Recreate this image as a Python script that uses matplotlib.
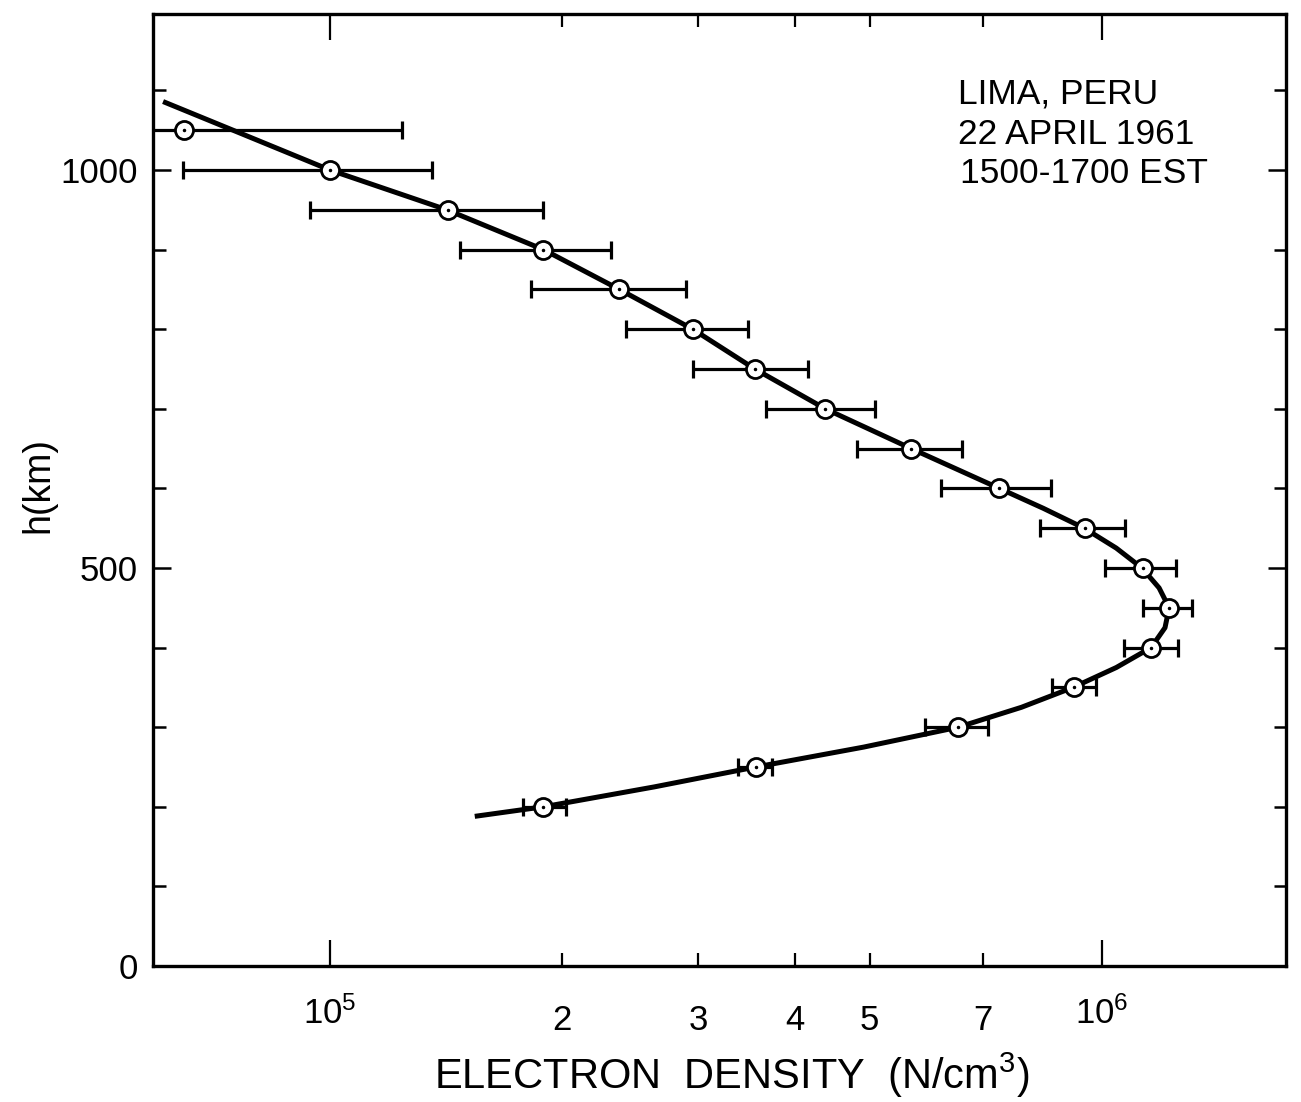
import matplotlib
matplotlib.use('Agg')
import matplotlib.pyplot as plt
from matplotlib.ticker import FixedLocator, FixedFormatter, MultipleLocator
import numpy as np

plt.rcParams['font.family'] = ['Liberation Sans', 'DejaVu Sans']
plt.rcParams['mathtext.default'] = 'regular'

# measured points (height km, electron density N/cm3) with error limits
height = [200, 250, 300, 350, 400, 450, 500, 550, 600, 650,
          700, 750, 800, 850, 900, 950, 1000, 1050]
density = [1.89e5, 3.56e5, 6.51e5, 9.20e5, 1.157e6, 1.221e6, 1.129e6, 9.51e5, 7.36e5, 5.66e5,
           4.38e5, 3.55e5, 2.95e5, 2.37e5, 1.89e5, 1.42e5, 1.0e5, 6.47e4]
err_low = [1.777e5, 3.38e5, 5.90e5, 8.62e5, 1.068e6, 1.13e6, 1.009e6, 8.31e5, 6.19e5, 4.807e5,
           3.665e5, 2.95e5, 2.415e5, 1.82e5, 1.473e5, 9.42e4, 6.45e4, 5.0e4]
err_high = [2.02e5, 3.74e5, 7.12e5, 9.82e5, 1.254e6, 1.307e6, 1.246e6, 1.071e6, 8.59e5, 6.59e5,
            5.086e5, 4.154e5, 3.474e5, 2.887e5, 2.31e5, 1.89e5, 1.355e5, 1.239e5]

# fitted profile
curve_h = [188, 200, 225, 250, 275, 300, 325, 350, 375, 400, 425, 450, 475, 500,
           525, 550, 575, 600, 650, 700, 750, 800, 850, 900, 950, 1000, 1050, 1086]
curve_n = [1.54e5, 1.89e5, 2.63e5, 3.56e5, 4.91e5, 6.51e5, 7.86e5, 9.17e5, 1.043e6, 1.157e6,
           1.206e6, 1.221e6, 1.185e6, 1.126e6, 1.043e6, 9.48e5, 8.39e5, 7.36e5, 5.66e5,
           4.38e5, 3.55e5, 2.95e5, 2.37e5, 1.89e5, 1.417e5, 1.0e5, 7.49e4, 6.08e4]

xmajor = [1e5, 1e6]
xmajor_labels = ['10$^5$', '10$^6$']
xminor = [2e5, 3e5, 4e5, 5e5, 7e5]
xminor_labels = ['2', '3', '4', '5', '7']

fig = plt.figure(figsize=(13.01, 11.02), dpi=100)
ax = fig.add_axes([153 / 1301, 136 / 1102, 1133 / 1301, 952 / 1102])

ax.plot(curve_n, curve_h, color='k', lw=3.6, zorder=2, solid_capstyle='butt',
        solid_joinstyle='round')

d = np.array(density)
xerr = [d - np.array(err_low), np.array(err_high) - d]
ax.errorbar(density, height, xerr=xerr, fmt='none', ecolor='k', elinewidth=2.3,
            capsize=6.5, capthick=2.3, zorder=3)
ax.plot(density, height, 'o', ms=13, mfc='white', mec='k', mew=2.0, zorder=4)
ax.plot(density, height, '.', ms=3, color='k', zorder=5)

ax.set_xscale('log')
ax.set_xlim(5.9e4, 1.73e6)
ax.set_ylim(0, 1196)

ax.xaxis.set_major_locator(FixedLocator(xmajor))
ax.xaxis.set_major_formatter(FixedFormatter(xmajor_labels))
ax.xaxis.set_minor_locator(FixedLocator(xminor))
ax.xaxis.set_minor_formatter(FixedFormatter(xminor_labels))
ax.yaxis.set_major_locator(FixedLocator([0, 500, 1000]))
ax.yaxis.set_minor_locator(MultipleLocator(100))

ax.tick_params(axis='x', which='major', direction='in', length=19, width=1.6,
               top=True, labelsize=25, pad=22)
ax.tick_params(axis='x', which='minor', direction='in', length=9.5, width=1.6,
               top=True, labelsize=25, pad=27)
ax.tick_params(axis='y', which='major', direction='in', length=13, width=1.8,
               right=True, labelsize=25, pad=11)
ax.tick_params(axis='y', which='minor', direction='in', length=9, width=1.8,
               right=True)

for s in ax.spines.values():
    s.set_linewidth(2.4)

txt = dict(fontsize=25.5, va='baseline', ha='left')
fig.text(958 / 1301, 1 - 104 / 1102, 'LIMA, PERU', **txt)
fig.text(958 / 1301, 1 - 144 / 1102, '22 APRIL 1961', **txt)
fig.text(960 / 1301, 1 - 183 / 1102, '1500-1700 EST', **txt)

fig.text(732 / 1301, 1 - 1089 / 1102, 'ELECTRON  DENSITY  (N/cm$^3$)',
         fontsize=30, ha='center', va='baseline')
fig.text(38 / 1301, 1 - 485 / 1102, 'h(km)', fontsize=27, rotation=90,
         ha='center', va='center')

fig.savefig('out.png', dpi=100)
